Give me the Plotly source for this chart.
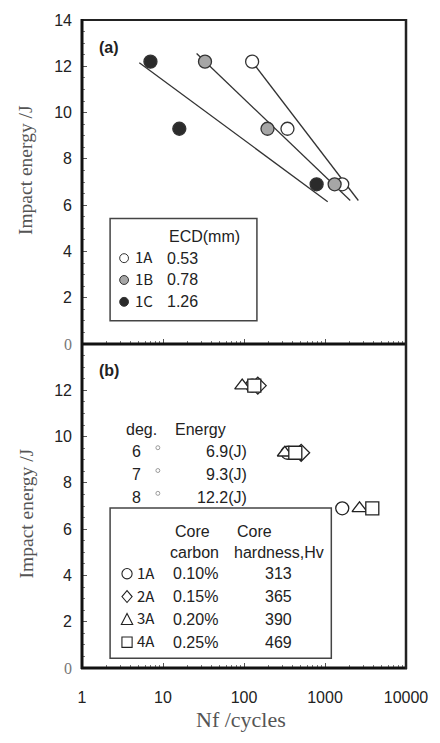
import plotly.graph_objects as go

# ---- data -------------------------------------------------------------
energy = [12.2, 9.3, 6.9]                 # impact energy levels (J)

# panel (a): cycles to failure for three ECD levels
nf_1A = [126, 344, 1633]
nf_1B = [33, 195, 1315]
nf_1C = [7.0, 15.9, 788]

# trend lines of panel (a): end points (Nf, energy)
fit_1A_nf = [126, 2580]
fit_1A_e = [12.2, 6.2]
fit_1B_nf = [26, 2050]
fit_1B_e = [12.55, 6.2]
fit_1C_nf = [5.1, 1080]
fit_1C_e = [12.15, 6.15]

# panel (b): cycles to failure for four core carbon levels
nf_b_1A = [126, 344, 1633]
nf_b_2A = [148, 508]
e_b_2A = [12.2, 9.3]
nf_b_3A = [95, 319, 2667]
nf_b_4A = [134, 430, 3837]

ecd_names = ["1A", "1B", "1C"]
ecd_values = ["0.53", "0.78", "1.26"]
ecd_fill = ["#ffffff", "#a6a6a6", "#2b2b2b"]

deg_values = ["6", "7", "8"]
deg_energy = ["6.9(J)", "9.3(J)", "12.2(J)"]

core_symbols = ["circle", "diamond", "triangle", "square"]
core_names = ["1A", "2A", "3A", "4A"]
core_carbon = ["0.10%", "0.15%", "0.20%", "0.25%"]
core_hv = ["313", "365", "390", "469"]

x_tickvals = [1, 10, 100, 1000, 10000]
x_ticktext = ["1", "10", "100", "1000", "10000"]

# ---- page geometry ------------------------------------------------------
W, H = 440, 743
L, R, T, B = 82, 27, 15, 75
PW, PH = W - L - R, H - T - B


def fx(px):
    return (px - L) / PW


def fy(py):
    return (H - B - py) / PH


SANS = "Liberation Sans, Arial, sans-serif"
SERIF = "Liberation Serif, Times New Roman, serif"
GOTH = "Noto Sans CJK JP, sans-serif"
INK = "#333333"

fig = go.Figure()

# ---- panel (a) ----------------------------------------------------------
for nf, e in [(fit_1A_nf, fit_1A_e), (fit_1B_nf, fit_1B_e), (fit_1C_nf, fit_1C_e)]:
    fig.add_trace(go.Scatter(x=nf, y=e, mode="lines", xaxis="x", yaxis="y",
                             line=dict(color=INK, width=1.3), showlegend=False,
                             hoverinfo="skip"))

for nf, fill in zip([nf_1A, nf_1B, nf_1C], ecd_fill):
    fig.add_trace(go.Scatter(x=nf, y=energy, mode="markers", xaxis="x", yaxis="y",
                             marker=dict(symbol="circle", size=13, color=fill,
                                         line=dict(color=INK, width=1.3)),
                             showlegend=False))

# ---- panel (b) ----------------------------------------------------------
open_marker = dict(size=13, color="white", line=dict(color="#222222", width=1.3))
fig.add_trace(go.Scatter(x=nf_b_1A, y=energy, mode="markers", xaxis="x2", yaxis="y2",
                         marker=dict(symbol="circle", **open_marker), showlegend=False))
fig.add_trace(go.Scatter(x=nf_b_2A, y=e_b_2A, mode="markers", xaxis="x2", yaxis="y2",
                         marker=dict(symbol="diamond", **open_marker), showlegend=False))
fig.add_trace(go.Scatter(x=nf_b_3A, y=energy, mode="markers", xaxis="x2", yaxis="y2",
                         marker=dict(symbol="triangle-up", **open_marker), showlegend=False))
fig.add_trace(go.Scatter(x=nf_b_4A, y=energy, mode="markers", xaxis="x2", yaxis="y2",
                         marker=dict(symbol="square", **open_marker), showlegend=False))

# ---- axes ---------------------------------------------------------------
zero_txt = '<span style="font-family:Liberation Serif;color:#777777">0</span>'
ya_vals = list(range(0, 15, 2))
yb_vals = list(range(0, 13, 2))

common_y = dict(range=[0, 14], showgrid=False, zeroline=False, showline=False,
                ticks="inside", ticklen=5, tickwidth=1, tickcolor="#555555",
                tickmode="array", ticklabelstandoff=9,
                tickfont=dict(family=SANS, size=16, color="#222222"),
                minor=dict(tickmode="linear", tick0=0, dtick=0.5, ticks="inside",
                           ticklen=3, tickwidth=1, tickcolor="#777777"))
common_x = dict(type="log", range=[0, 4], showgrid=False, zeroline=False,
                showline=False, ticks="inside", ticklen=5, tickwidth=1,
                tickcolor="#555555", tickmode="array", tickvals=x_tickvals,
                ticktext=x_ticktext,
                tickfont=dict(family=SANS, size=16, color="#222222"),
                minor=dict(ticks="inside", ticklen=3, tickwidth=1,
                           tickcolor="#777777", dtick="D1"))

fig.update_layout(
    width=W, height=H, margin=dict(l=L, r=R, t=T, b=B),
    paper_bgcolor="white", plot_bgcolor="white",
    xaxis=dict(domain=[0, 1], anchor="y", showticklabels=False, **common_x),
    yaxis=dict(domain=[0.5, 1], anchor="x", tickvals=ya_vals,
               ticktext=[zero_txt] + [str(v) for v in ya_vals[1:]], **common_y),
    xaxis2=dict(domain=[0, 1], anchor="y2", ticklabelstandoff=18, **common_x),
    yaxis2=dict(domain=[0, 0.5], anchor="x2", tickvals=yb_vals,
                ticktext=[zero_txt] + [str(v) for v in yb_vals[1:]], **common_y),
)

# ---- frames -------------------------------------------------------------
shapes = []


def hline(y, x0, x1, w, c="#111111"):
    shapes.append(dict(type="line", xref="paper", yref="paper", x0=fx(x0), x1=fx(x1),
                       y0=fy(y), y1=fy(y), line=dict(color=c, width=w)))


def vline(x, y0, y1, w, c="#111111"):
    shapes.append(dict(type="line", xref="paper", yref="paper", x0=fx(x), x1=fx(x),
                       y0=fy(y0), y1=fy(y1), line=dict(color=c, width=w)))


hline(15, 82, 413, 2, "#222222")
hline(341.5, 81, 414, 3)
hline(668, 81, 414, 3)
vline(82, 14, 669, 3)
vline(413, 14, 669, 2.5, "#222222")

# legend box of panel (a)
shapes.append(dict(type="rect", xref="paper", yref="paper", x0=fx(110.7), x1=fx(260.7),
                   y0=fy(318), y1=fy(215), line=dict(color="#444444", width=1.5)))
# legend box of panel (b)
shapes.append(dict(type="rect", xref="paper", yref="paper", x0=fx(110.7), x1=fx(336.7),
                   y0=fy(658.3), y1=fy(506.7), line=dict(color="#444444", width=1.5),
                   fillcolor="rgba(0,0,0,0)"))


def legend_symbol(kind, cx, cy, r=5.2):
    """Small open symbol drawn in page pixels, for the legend of panel (b)."""
    style = dict(xref="paper", yref="paper", line=dict(color="#222222", width=1.1))
    if kind == "circle":
        shapes.append(dict(type="circle", x0=fx(cx - r), x1=fx(cx + r),
                           y0=fy(cy + r), y1=fy(cy - r), **style))
        return
    if kind == "diamond":
        pts = [(cx - r, cy), (cx, cy - r - 0.8), (cx + r, cy), (cx, cy + r + 0.8)]
    elif kind == "triangle":
        pts = [(cx - r - 0.6, cy + r), (cx + r + 0.6, cy + r), (cx, cy - r - 0.8)]
    else:
        pts = [(cx - r, cy - r), (cx + r, cy - r), (cx + r, cy + r), (cx - r, cy + r)]
    path = "M " + " L ".join(f"{fx(px):.5f},{fy(py):.5f}" for px, py in pts) + " Z"
    shapes.append(dict(type="path", path=path, **style))


annotations = []


def text(s, x, y, size=16, family=SANS, color="#222222", xanchor="center", **kw):
    annotations.append(dict(text=s, x=fx(x), y=fy(y), xref="paper", yref="paper",
                            showarrow=False, xanchor=xanchor, yanchor="middle",
                            font=dict(family=family, size=size, color=color), **kw))


# ECD legend
text("ECD(mm)", 169, 233, xanchor="left")
rows_a = [255, 277, 299]
for name, val, fill, ry in zip(ecd_names, ecd_values, ecd_fill, rows_a):
    shapes.append(dict(type="circle", xref="paper", yref="paper",
                       x0=fx(120.5), x1=fx(129.5), y0=fy(ry + 4.5), y1=fy(ry - 4.5),
                       fillcolor=fill, line=dict(color=INK, width=1)))
    text(name, 134, ry - 1.5, size=15, family=GOTH, xanchor="left")
    text(val, 167, ry, xanchor="left")

# energy level table of panel (b)
text("deg.", 143, 428)
text("Energy", 203, 428)
rows_d = [450, 473, 496]
for d, ev, ry in zip(deg_values, deg_energy, rows_d):
    text(d, 138, ry)
    text(ev, 253, ry, xanchor="right")
    shapes.append(dict(type="circle", xref="paper", yref="paper",
                       x0=fx(157.5), x1=fx(161.5), y0=fy(ry - 2), y1=fy(ry - 6),
                       line=dict(color="#9a9a9a", width=1)))

# core property legend
text("Core", 195, 530)
text("carbon", 197, 552)
text("Core", 258, 530)
text("hardness,Hv", 283, 552)
rows_b = [573, 596, 619, 642]
for sym, name, c, hv, ry in zip(core_symbols, core_names, core_carbon, core_hv, rows_b):
    legend_symbol(sym, 128, ry)
    text(name, 136, ry - 1.5, size=15, family=GOTH, xanchor="left")
    text(c, 173, ry, xanchor="left")
    text(hv, 283, ry)

# panel labels
text("<b>(a)</b>", 110, 43, size=16)
text("<b>(b)</b>", 110, 368, size=16)

# axis titles
text("Impact energy /J", 25, 166, size=19.5, family=SERIF, color="#555555", textangle=-90)
text("Impact energy /J", 25, 512, size=19.5, family=SERIF, color="#555555", textangle=-90)
text("Nf /cycles", 244, 720, size=22, family=SERIF, color="#555555")

fig.update_layout(shapes=shapes, annotations=annotations)

fig.write_html("out.html")
